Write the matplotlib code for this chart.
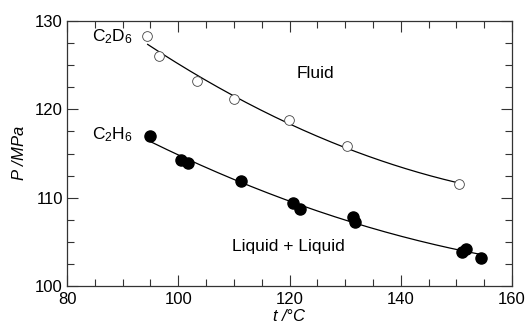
import numpy as np
import matplotlib
matplotlib.use("Agg")
import matplotlib.pyplot as plt
from matplotlib.ticker import MultipleLocator

plt.rcParams['font.family'] = ['Liberation Sans', 'DejaVu Sans']
plt.rcParams['mathtext.fontset'] = 'custom'
plt.rcParams['mathtext.rm'] = 'Liberation Sans'
plt.rcParams['mathtext.it'] = 'Liberation Sans:italic'

# C2D6 (open circles)
d6_t = [94.4, 96.6, 103.4, 110.1, 119.9, 130.3, 150.5]
d6_p = [128.3, 126.0, 123.2, 121.2, 118.8, 115.85, 111.5]

# C2H6 (filled circles)
h6_t = [94.9, 100.5, 101.8, 111.2, 120.7, 121.9, 131.5, 131.8, 151.1, 151.8, 154.5]
h6_p = [117.0, 114.3, 113.9, 111.9, 109.4, 108.7, 107.8, 107.2, 103.9, 104.2, 103.2]

fig = plt.figure(figsize=(5.27, 3.28), dpi=100)
ax = fig.add_axes([67/527, 1-286/328, (512-67)/527, (286-21)/328])

for t, p, lo, hi in [(d6_t, d6_p, 94.5, 150.5), (h6_t, h6_p, 95.0, 155.0)]:
    c = np.polyfit(t, p, 2)
    xs = np.linspace(lo, hi, 200)
    ax.plot(xs, np.polyval(c, xs), color='black', lw=0.9, zorder=2)

ax.plot(d6_t, d6_p, 'o', ms=7, mfc='white', mec='#444444', mew=0.6, zorder=3)
ax.plot(h6_t, h6_p, 'o', ms=8, mfc='black', mec='black', zorder=3)

ax.set_xlim(80, 160)
ax.set_ylim(100, 130)
ax.xaxis.set_major_locator(MultipleLocator(20))
ax.xaxis.set_minor_locator(MultipleLocator(5))
ax.yaxis.set_major_locator(MultipleLocator(10))
ax.yaxis.set_minor_locator(MultipleLocator(2.5))
ax.tick_params(which='both', direction='in', top=True, right=True, labelsize=12,
               color='#333333')
ax.tick_params(axis='x', pad=4)
ax.tick_params(axis='y', pad=3)
ax.tick_params(which='major', length=8, width=0.8)
ax.tick_params(which='minor', length=5, width=0.8)
for s in ax.spines.values():
    s.set_color('#333333')
    s.set_linewidth(0.9)

ax.set_xlabel(r'$t$ /°C', fontsize=12, fontstyle='italic', labelpad=1)
ax.set_ylabel(r'$P$ /MPa', fontsize=12, fontstyle='italic', labelpad=6)


def px(x, y):
    return ax.transData.inverted().transform((x, 328 - y))


for s, (x, y), fs in [(r'C$_2$D$_6$', (92, 37), 12.5), (r'C$_2$H$_6$', (92, 135), 12.5),
                      ('Fluid', (297, 73.5), 12.5), ('Liquid + Liquid', (232, 247), 12.5)]:
    xd, yd = px(x, y)
    ax.text(xd, yd, s, fontsize=fs, ha='left', va='center')

fig.savefig('out.png', dpi=100)
